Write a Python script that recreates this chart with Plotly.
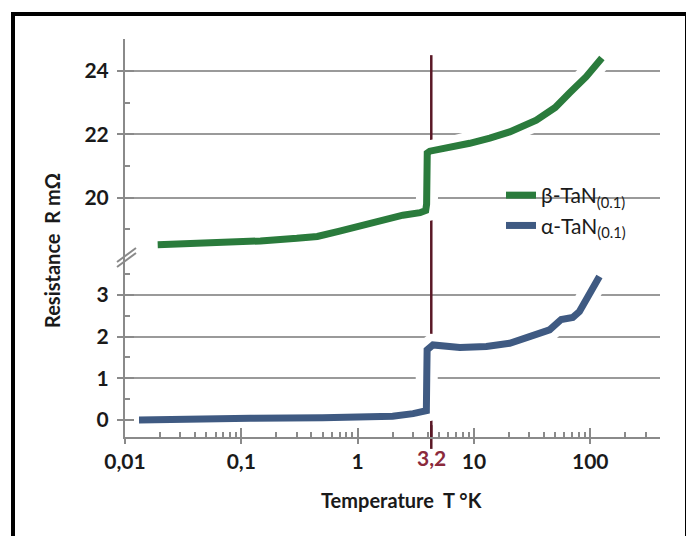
import math
import plotly.graph_objects as go

# ---------------- data ----------------
beta_T = [0.0191, 0.05, 0.146, 0.3, 0.45, 0.7, 1.0, 1.28, 1.8, 2.45, 3.44, 3.85,
          3.92, 3.97, 4.18, 6.0, 9.2, 13.7, 20.3, 34.4, 50, 66, 92.4, 126]
beta_R = [18.52, 18.56, 18.64, 18.72, 18.78, 18.95, 19.1, 19.2, 19.33, 19.45, 19.53, 19.6,
          19.8, 21.41, 21.47, 21.57, 21.72, 21.88, 22.08, 22.45, 22.85, 23.3, 23.82, 24.41]

alpha_T = [0.0132, 0.05, 0.115, 0.12, 0.5, 1.0, 1.46, 2.0, 3.0, 3.9, 3.93, 3.96,
           4.45, 5.5, 7.57, 12.8, 20.3, 30.1, 44.7, 56.3, 70.8, 80.8, 98.4, 120]
alpha_R = [0.0, 0.0, 0.0, 0.04, 0.05, 0.05, 0.05, 0.09, 0.15, 0.22, 1.0, 1.68,
           1.80, 1.78, 1.74, 1.76, 1.84, 2.0, 2.16, 2.41, 2.46, 2.6, 3.04, 3.44]

TC_POS = 4.3          # where the critical temperature marker is drawn
TC_LABEL = "3,2"
TC_TOP = 24.5         # top end of the marker line (upper panel units)

x_tickvals = [0.01, 0.1, 1, 10, 100]
x_ticktext = ["0,01", "0,1", "1", "10", "100"]
x_minor = [m * 10 ** e for e in range(-2, 3) for m in range(2, 10)]

up_ticks = [20, 22, 24]
up_minor = [19, 21, 23]
lo_ticks = [0, 1, 2, 3]
lo_minor = [0.5, 1.5, 2.5, 3.5]

up_range = [18.10, 25.01]
lo_range = [-0.41, 3.885]
x_range = [-2, 2.6]

# ---------------- page geometry ----------------
# the page body has an 8px margin, so the figure is sized to fit the window
W, H, OFF = 686, 528, 8


def px(x):
    return (x - OFF) / W


def py(y):
    return 1 - (y - OFF) / H


# ---------------- styling ----------------
AX = "#8a8a8a"
GRID = "#9a9a9a"
GREEN = "#2a7b3c"
BLUE = "#3f5a82"
RED = "#5a1826"
RED_TXT = "#8b2a3c"
FONT = "Lato"
TICKFONT = dict(family=FONT, size=21, color="#1a1a1a", weight="bold")

X_DOM = [px(125), px(660)]
LO_DOM = [py(437), py(258)]
UP_DOM = [py(258), py(39)]

fig = go.Figure()

# critical temperature marker (beneath the curves and their halos)
fig.add_trace(go.Scatter(x=[TC_POS, TC_POS], y=[up_range[0], TC_TOP], mode="lines",
                         line=dict(color=RED, width=2.5), xaxis="x", yaxis="y2",
                         showlegend=False, hoverinfo="skip"))
fig.add_trace(go.Scatter(x=[TC_POS, TC_POS], y=[lo_range[0], lo_range[1]], mode="lines",
                         line=dict(color=RED, width=2.5), xaxis="x", yaxis="y",
                         showlegend=False, hoverinfo="skip"))
fig.add_trace(go.Scatter(x=[TC_POS], y=[lo_range[0]], mode="markers", cliponaxis=False,
                         marker=dict(symbol="line-ns", size=17, line=dict(color=RED, width=2.5)),
                         xaxis="x", yaxis="y", showlegend=False, hoverinfo="skip"))

# white halos
fig.add_trace(go.Scatter(x=beta_T, y=beta_R, mode="lines", line=dict(color="white", width=22),
                         xaxis="x", yaxis="y2", showlegend=False, hoverinfo="skip"))
fig.add_trace(go.Scatter(x=alpha_T, y=alpha_R, mode="lines", line=dict(color="white", width=22),
                         xaxis="x", yaxis="y", showlegend=False, hoverinfo="skip"))

# curves
fig.add_trace(go.Scatter(x=beta_T, y=beta_R, mode="lines", name="β-TaN<sub>(0.1)</sub>",
                         line=dict(color=GREEN, width=7), xaxis="x", yaxis="y2",
                         legendgroup="b"))
fig.add_trace(go.Scatter(x=alpha_T, y=alpha_R, mode="lines", name="α-TaN<sub>(0.1)</sub>",
                         line=dict(color=BLUE, width=7), xaxis="x", yaxis="y",
                         legendgroup="a"))

# empty traces so that the overlay axes (inner halves of the crossing ticks) get drawn
for xa, ya in (("x2", "y"), ("x", "y3"), ("x", "y4")):
    fig.add_trace(go.Scatter(x=[], y=[], xaxis=xa, yaxis=ya, showlegend=False,
                             hoverinfo="skip"))

fig.update_layout(
    width=W, height=H,
    margin=dict(l=0, r=0, t=0, b=0, autoexpand=False),
    paper_bgcolor="white", plot_bgcolor="rgba(0,0,0,0)",
    font=dict(family=FONT, color="#1a1a1a"),
    showlegend=True,
    legend=dict(x=px(501), y=py(175), xanchor="left", yanchor="top", bgcolor="rgba(0,0,0,0)",
                font=dict(family=FONT, size=21, color="#1a1a1a"), tracegroupgap=8,
                traceorder="normal"),
    xaxis=dict(type="log", domain=X_DOM, range=x_range, anchor="y", automargin=False,
               showline=True, linecolor=AX, linewidth=2, showgrid=False, zeroline=False,
               ticks="outside", ticklen=5, tickwidth=2, tickcolor=AX,
               tickmode="array", tickvals=x_tickvals, ticktext=x_ticktext, tickfont=TICKFONT,
               minor=dict(tickmode="array", tickvals=x_minor, ticks="inside", ticklen=5,
                          tickwidth=1.5, tickcolor=AX, showgrid=False)),
    xaxis2=dict(type="log", overlaying="x", anchor="y", range=x_range, automargin=False,
                showline=False, showgrid=False, zeroline=False, ticks="inside", ticklen=9,
                tickwidth=2, tickcolor=AX, tickmode="array", tickvals=x_tickvals,
                showticklabels=False),
    # lower panel (zero line made invisible so no grid line is drawn at 0)
    yaxis=dict(domain=LO_DOM, range=lo_range, anchor="x", automargin=False,
               showline=True, linecolor=AX, linewidth=2,
               zeroline=True, zerolinecolor="rgba(0,0,0,0)", zerolinewidth=1,
               showgrid=True, gridcolor=GRID, gridwidth=1.5,
               tickmode="array", tickvals=lo_ticks, ticktext=[str(v) for v in lo_ticks],
               ticks="outside", ticklen=6, tickwidth=2, tickcolor=AX, tickfont=TICKFONT,
               ticklabelstandoff=4,
               minor=dict(tickmode="array", tickvals=lo_minor, ticks="inside", ticklen=5,
                          tickwidth=1.5, tickcolor=AX, showgrid=False)),
    yaxis3=dict(overlaying="y", anchor="x", range=lo_range, automargin=False,
                showline=False, zeroline=False, showgrid=False,
                tickmode="array", tickvals=lo_ticks, ticks="inside", ticklen=9,
                tickwidth=2, tickcolor=AX, showticklabels=False),
    # upper panel
    yaxis2=dict(domain=UP_DOM, range=up_range, anchor="x", automargin=False,
                showline=True, linecolor=AX, linewidth=2, zeroline=False,
                showgrid=True, gridcolor=GRID, gridwidth=1.5,
                tickmode="array", tickvals=up_ticks, ticktext=[str(v) for v in up_ticks],
                ticks="outside", ticklen=6, tickwidth=2, tickcolor=AX, tickfont=TICKFONT,
                ticklabelstandoff=4,
                minor=dict(tickmode="array", tickvals=up_minor, ticks="inside", ticklen=5,
                           tickwidth=1.5, tickcolor=AX, showgrid=False)),
    yaxis4=dict(overlaying="y2", anchor="x", range=up_range, automargin=False,
                showline=False, zeroline=False, showgrid=False,
                tickmode="array", tickvals=up_ticks, ticks="inside", ticklen=9,
                tickwidth=2, tickcolor=AX, showticklabels=False),
)

# axis titles and Tc label
fig.add_annotation(text="Resistance  R mΩ", x=px(52), y=py(251), xref="paper", yref="paper",
                   xanchor="center", yanchor="middle", textangle=-90, showarrow=False,
                   font=dict(family=FONT, size=20, color="#1a1a1a", weight="bold"))
fig.add_annotation(text="Temperature  T °K", x=px(401), y=py(500), xref="paper", yref="paper",
                   xanchor="center", yanchor="middle", showarrow=False,
                   font=dict(family=FONT, size=20, color="#1a1a1a", weight="bold"))
fig.add_annotation(text=TC_LABEL, x=math.log10(TC_POS), xref="x", y=py(457), yref="paper",
                   yanchor="middle", showarrow=False,
                   font=dict(family=FONT, size=21, color=RED_TXT, weight="bold"))

# axis-break marks and outer frame
for y0, y1 in ((262, 248), (267, 253)):
    fig.add_shape(type="line", xref="paper", yref="paper",
                  x0=px(117), y0=py(y0), x1=px(136), y1=py(y1),
                  line=dict(color=AX, width=2))
fig.add_shape(type="rect", xref="paper", yref="paper",
              x0=px(13), y0=py(560), x1=px(687), y1=py(14),
              line=dict(color="black", width=4), fillcolor="rgba(0,0,0,0)")

fig.write_html("out.html")
